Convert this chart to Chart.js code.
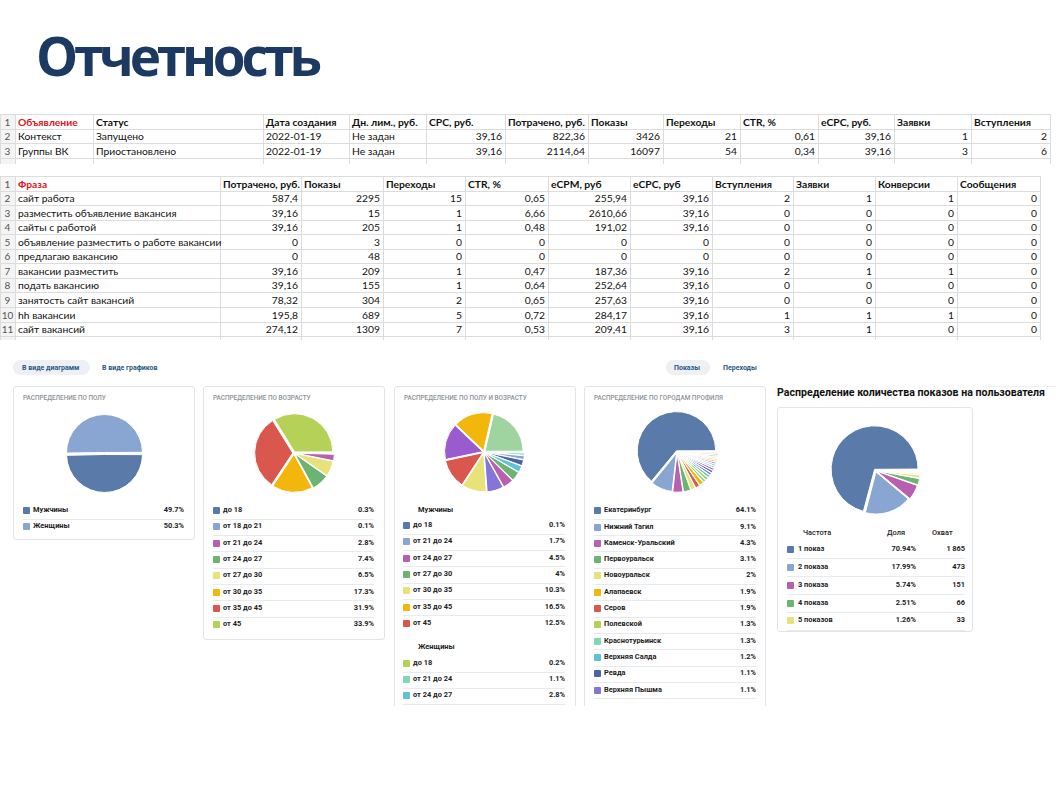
<!DOCTYPE html>
<html><head><meta charset="utf-8">
<script src="https://cdn.jsdelivr.net/npm/chart.js@4"></script>
<style>
html,body{margin:0;padding:0;background:#fff;}
body{width:1056px;height:795px;position:relative;overflow:hidden;font-family:Roboto,sans-serif;}
#title{position:absolute;left:36px;top:29px;font:bold 53px "Open Sans";line-height:54px;color:#1c3961;letter-spacing:-4.2px;white-space:nowrap;}
.sheet{position:absolute;left:0;overflow:hidden;font-family:Lato,sans-serif;font-size:10.3px;color:#111;}
.sheet div{position:absolute;white-space:nowrap;}
.hl{height:1px;background:#dcdcdc;}
.vl{width:1px;background:#dcdcdc;}
#vk{position:absolute;left:0;top:350px;width:1056px;height:356px;overflow:hidden;}
#vk div, #vk canvas{position:absolute;}
.pill{background:#edf0f4;border-radius:8px;height:15px;}
.ptxt{font:bold 7px Roboto;color:#2a5885;white-space:nowrap;line-height:10px;}
.card{border:1px solid #e3e4e8;border-radius:3px;background:#fff;box-sizing:border-box;}
.ctitle{font:500 6.4px Roboto;color:#8d9196;white-space:nowrap;line-height:8px;}
.lab{font:bold 7.4px Roboto;color:#1d1d1d;white-space:nowrap;line-height:10px;}
.sw{width:7px;height:7px;border-radius:1px;}
.sep{height:1px;background:#e9eaee;}
</style></head><body>
<div id="title">Отчетность</div>
<div id="vk"></div>
<script>
// ---------- spreadsheet data ----------
const sheet1Header = ["Объявление","Статус","Дата создания","Дн. лим., руб.","CPC, руб.","Потрачено, руб.","Показы","Переходы","CTR, %","eCPC, руб.","Заявки","Вступления"];
const sheet1Row1 = ["Контекст","Запущено","2022-01-19","Не задан","39,16","822,36","3426","21","0,61","39,16","1","2"];
const sheet1Row2 = ["Группы ВК","Приостановлено","2022-01-19","Не задан","39,16","2114,64","16097","54","0,34","39,16","3","6"];

const sheet2Header = ["Фраза","Потрачено, руб.","Показы","Переходы","CTR, %","eCPM, руб","eCPC, руб","Вступления","Заявки","Конверсии","Сообщения"];
const phrases = ["сайт работа","разместить объявление вакансия","сайты с работой","объявление разместить о работе вакансии","предлагаю вакансию","вакансии разместить","подать вакансию","занятость сайт вакансий","hh вакансии","сайт вакансий"];
const phraseSpent = ["587,4","39,16","39,16","0","0","39,16","39,16","78,32","195,8","274,12"];
const phraseShows = [2295,15,205,3,48,209,155,304,689,1309];
const phraseClicks = [15,1,1,0,0,1,1,2,5,7];
const phraseCtr = ["0,65","6,66","0,48","0","0","0,47","0,64","0,65","0,72","0,53"];
const phraseEcpm = ["255,94","2610,66","191,02","0","0","187,36","252,64","257,63","284,17","209,41"];
const phraseEcpc = ["39,16","39,16","39,16","0","0","39,16","39,16","39,16","39,16","39,16"];
const phraseJoins = [2,0,0,0,0,2,0,0,1,3];
const phraseRequests = [1,0,0,0,0,1,0,0,1,1];
const phraseConversions = [1,0,0,0,0,1,0,0,1,0];
const phraseMessages = [0,0,0,0,0,0,0,0,0,0];

// ---------- pie data ----------
const genderLabels = ["Мужчины","Женщины"];
const genderShares = [49.7, 50.3];
const ageLabels = ["до 18","от 18 до 21","от 21 до 24","от 24 до 27","от 27 до 30","от 30 до 35","от 35 до 45","от 45"];
const ageShares = [0.3, 0.1, 2.8, 7.4, 6.5, 17.3, 31.9, 33.9];
const maleAgeLabels = ["до 18","от 21 до 24","от 24 до 27","от 27 до 30","от 30 до 35","от 35 до 45","от 45"];
const maleAgeShares = [0.1, 1.7, 4.5, 4, 10.3, 16.5, 12.5];
const femaleAgeLabels = ["до 18","от 21 до 24","от 24 до 27","от 27 до 30","от 30 до 35","от 35 до 45","от 45"];
const femaleAgeShares = [0.2, 1.1, 2.8, 2.5, 7.0, 15.4, 21.4];
const femaleShownCount = 3;
const cityLabels = ["Екатеринбург","Нижний Тагил","Каменск-Уральский","Первоуральск","Новоуральск","Алапаевск","Серов","Полевской","Краснотурьинск","Верхняя Салда","Ревда","Верхняя Пышма","Город 13","Город 14","Город 15","Город 16","Город 17","Город 18","Город 19","Город 20","Город 21","Город 22"];
const cityShares = [64.1, 9.1, 4.3, 3.1, 2, 1.9, 1.9, 1.3, 1.3, 1.2, 1.1, 1.1, 1.0, 0.9, 0.8, 0.8, 0.7, 0.7, 0.7, 0.7, 0.7, 0.6];
const cityShownCount = 12;
const freqLabels = ["1 показ","2 показа","3 показа","4 показа","5 показов","6 показов","7 показов","8 показов","9 показов","10 показов"];
const freqShares = [70.94, 17.99, 5.74, 2.51, 1.26, 0.5, 0.36, 0.27, 0.23, 0.2];
const freqReach = [1865, 473, 151, 66, 33, 13, 9, 7, 6, 6];
const freqShownCount = 5;

const palette = ['#5a7ba9','#89a6d3','#b95fb0','#6db472','#e8e27a','#f2b70a','#d9574d','#b6d158','#80d9b6','#5fc3d8','#4e62a6','#8475d8','#9a5bcf','#9fd4a0'];

// ---------- spreadsheets ----------
function buildSheet(top, height, edges, rowH, header, rows, textCols, redFirst) {
  const w = document.createElement('div');
  w.className = 'sheet';
  w.style.top = top + 'px'; w.style.height = height + 'px'; w.style.width = '1056px';
  document.body.appendChild(w);
  const right = edges[edges.length-1];
  const nRows = rows.length + 2;
  const bg = document.createElement('div');
  bg.style.cssText = `left:0;top:0;width:${edges[1]}px;height:${height}px;background:#f4f4f4;`;
  w.appendChild(bg);
  for (let r = 0; r <= nRows; r++) {
    const l = document.createElement('div'); l.className = 'hl';
    l.style.left = '0px'; l.style.width = right + 'px'; l.style.top = Math.round(r*rowH) + 'px';
    w.appendChild(l);
  }
  edges.forEach(x => {
    const l = document.createElement('div'); l.className = 'vl';
    l.style.left = x + 'px'; l.style.top = '0px'; l.style.height = height + 'px';
    w.appendChild(l);
  });
  const all = [header].concat(rows);
  all.forEach((row, r) => {
    const y = Math.round(r*rowH);
    const h = Math.round((r+1)*rowH) - y;
    const n = document.createElement('div');
    n.textContent = String(r+1);
    n.style.cssText = `left:0;top:${y}px;width:${edges[1]}px;height:${h}px;line-height:${h+1}px;text-align:center;color:#555;font-size:10px;`;
    w.appendChild(n);
    row.forEach((txt, c) => {
      const d = document.createElement('div');
      const x0 = edges[c+1], x1 = edges[c+2];
      const isText = r === 0 || textCols.includes(c);
      d.textContent = txt;
      d.style.cssText = `left:${x0+3}px;top:${y}px;width:${x1-x0-6}px;height:${h}px;line-height:${h+1}px;text-align:${isText?'left':'right'};overflow:visible;`;
      if (r === 0) { d.style.fontWeight = 'bold'; if (c === 0 && redFirst) d.style.color = '#e3131b'; }
      w.appendChild(d);
    });
  });
}
buildSheet(114, 50, [0,15,93,263,349,426,505,588,663,740,818,894,971,1050], 14.5,
  sheet1Header, [sheet1Row1, sheet1Row2], [0,1,2,3], true);
const sheet2Rows = phrases.map((p,i) => [p, phraseSpent[i], String(phraseShows[i]), String(phraseClicks[i]), phraseCtr[i], phraseEcpm[i], phraseEcpc[i], String(phraseJoins[i]), String(phraseRequests[i]), String(phraseConversions[i]), String(phraseMessages[i])]);
buildSheet(176, 164, [0,15,220,301,383,465,548,630,712,793,875,957,1040], 14.55,
  sheet2Header, sheet2Rows, [0], true);

// ---------- VK stats area (coords relative to #vk, which starts at y=350) ----------
const vk = document.getElementById('vk');
const OY = 350;
function el(cls, css, txt) {
  const d = document.createElement('div');
  if (cls) d.className = cls;
  d.style.cssText = css;
  if (txt !== undefined) d.textContent = txt;
  vk.appendChild(d);
  return d;
}
el('pill', `left:13px;top:${360-OY}px;width:77px;`);
el('ptxt', `left:22px;top:${363-OY}px;`, 'В виде диаграмм');
el('ptxt', `left:102px;top:${363-OY}px;`, 'В виде графиков');
el('pill', `left:666px;top:${360-OY}px;width:44px;`);
el('ptxt', `left:674px;top:${363-OY}px;`, 'Показы');
el('ptxt', `left:723px;top:${363-OY}px;`, 'Переходы');
el('', `left:983px;top:${386-OY}px;width:73px;height:1px;background:#f0f0f2;`);

const cards = [
  {left:13, top:386, w:182, h:154, title:'РАСПРЕДЕЛЕНИЕ ПО ПОЛУ'},
  {left:203, top:386, w:182, h:254, title:'РАСПРЕДЕЛЕНИЕ ПО ВОЗРАСТУ'},
  {left:394, top:386, w:182, h:340, title:'РАСПРЕДЕЛЕНИЕ ПО ПОЛУ И ВОЗРАСТУ'},
  {left:584, top:386, w:182, h:340, title:'РАСПРЕДЕЛЕНИЕ ПО ГОРОДАМ ПРОФИЛЯ'},
];
cards.forEach(c => {
  el('card', `left:${c.left}px;top:${c.top-OY}px;width:${c.w}px;height:${c.h}px;`);
  el('ctitle', `left:${c.left+10}px;top:${394-OY}px;`, c.title);
});
el('card', `left:777px;top:${407-OY}px;width:196px;height:225px;`);
el('', `left:777px;top:${386-OY}px;font:bold 10.6px Roboto;color:#111;white-space:nowrap;line-height:14px;`, 'Распределение количества показов на пользователя');

function fmtPct(v) { return String(v) + '%'; }
function legend(x0, x1, yStart, step, labels, values, colors, fmt, lastSep) {
  labels.forEach((lab, i) => {
    const y = yStart + i*step;
    el('sw', `left:${x0}px;top:${(y-OY-3.5).toFixed(1)}px;background:${colors[i]};`);
    el('lab', `left:${x0+10}px;top:${(y-OY-5.5).toFixed(1)}px;`, lab);
    el('lab', `left:${x1-60}px;width:60px;text-align:right;top:${(y-OY-5.5).toFixed(1)}px;`, fmt(values[i]));
    if (i < labels.length-1 || lastSep) el('sep', `left:${x0}px;width:${x1-x0}px;top:${Math.round(y+step/2-OY)}px;`);
  });
}
legend(23, 184, 510.5, 16.3, genderLabels, genderShares, [palette[0], palette[1]], fmtPct);
legend(213, 374, 510.5, 16.33, ageLabels, ageShares, palette.slice(0,8), fmtPct);
el('lab', `left:418px;top:${510-OY-5.5}px;`, 'Мужчины');
legend(403, 565, 525.5, 16.35, maleAgeLabels, maleAgeShares, palette.slice(0,7), fmtPct);
el('lab', `left:418px;top:${647-OY-5.5}px;`, 'Женщины');
legend(403, 565, 663.5, 16.2, femaleAgeLabels.slice(0, femaleShownCount), femaleAgeShares.slice(0, femaleShownCount), palette.slice(7,14), fmtPct, true);
const cityColors = cityLabels.map((_, i) => palette[i % palette.length]);
legend(594, 756, 510.7, 16.3, cityLabels.slice(0, cityShownCount), cityShares.slice(0, cityShownCount), cityColors, fmtPct, true);
// frequency table
el('lab', `left:803px;top:${533-OY-5}px;font-weight:500;`, 'Частота');
el('lab', `left:887px;top:${533-OY-5}px;font-weight:500;`, 'Доля');
el('lab', `left:932px;top:${533-OY-5}px;font-weight:500;`, 'Охват');
const freqColors = freqLabels.map((_, i) => palette[i % palette.length]);
function fmtReach(v) { return String(v).replace(/\B(?=(\d{3})+(?!\d))/g, '\u2009'); }
for (let i = 0; i < freqShownCount; i++) {
  const y = 549.5 + i*17.85;
  el('sw', `left:787px;top:${(y-OY-3.5).toFixed(1)}px;background:${freqColors[i]};`);
  el('lab', `left:798px;top:${(y-OY-5.5).toFixed(1)}px;`, freqLabels[i]);
  el('lab', `left:856px;width:60px;text-align:right;top:${(y-OY-5.5).toFixed(1)}px;`, freqShares[i].toFixed(2) + '%');
  el('lab', `left:905px;width:60px;text-align:right;top:${(y-OY-5.5).toFixed(1)}px;`, fmtReach(freqReach[i]));
  el('sep', `left:787px;width:178px;top:${Math.round(y+8.9-OY)}px;`);
}

// ---------- pies ----------
function makePie(cx, cy, r, off, labels, values, colors) {
  const S = Math.round(2*r + off + 1);
  const cv = document.createElement('canvas');
  cv.width = S; cv.height = S;
  cv.style.left = (cx - S/2) + 'px'; cv.style.top = (cy - OY - S/2) + 'px';
  cv.style.width = S + 'px'; cv.style.height = S + 'px';
  vk.appendChild(cv);
  const order = values.map((v, i) => i).sort((a, b) => values[a] - values[b]);
  new Chart(cv, {
    type: 'pie',
    data: {
      labels: order.map(i => labels[i]),
      datasets: [{
        data: order.map(i => values[i]),
        backgroundColor: order.map(i => colors[i]),
        borderColor: '#ffffff', borderWidth: 1, offset: off
      }]
    },
    options: {
      responsive: false, animation: false, rotation: 90,
      layout: {padding: 0},
      plugins: {legend: {display: false}, tooltip: {enabled: false}}
    }
  });
}
makePie(104, 453, 37, 4, genderLabels, genderShares, [palette[0], palette[1]]);
makePie(294, 453, 38, 5, ageLabels, ageShares, palette.slice(0,8));
makePie(484, 452, 38, 5,
  maleAgeLabels.map(l => 'М ' + l).concat(femaleAgeLabels.map(l => 'Ж ' + l)),
  maleAgeShares.concat(femaleAgeShares), palette.slice(0,14));
makePie(677, 452, 38, 5, cityLabels, cityShares, cityColors);
makePie(875, 470, 42, 6, freqLabels, freqShares, freqColors);
</script>
</body></html>
